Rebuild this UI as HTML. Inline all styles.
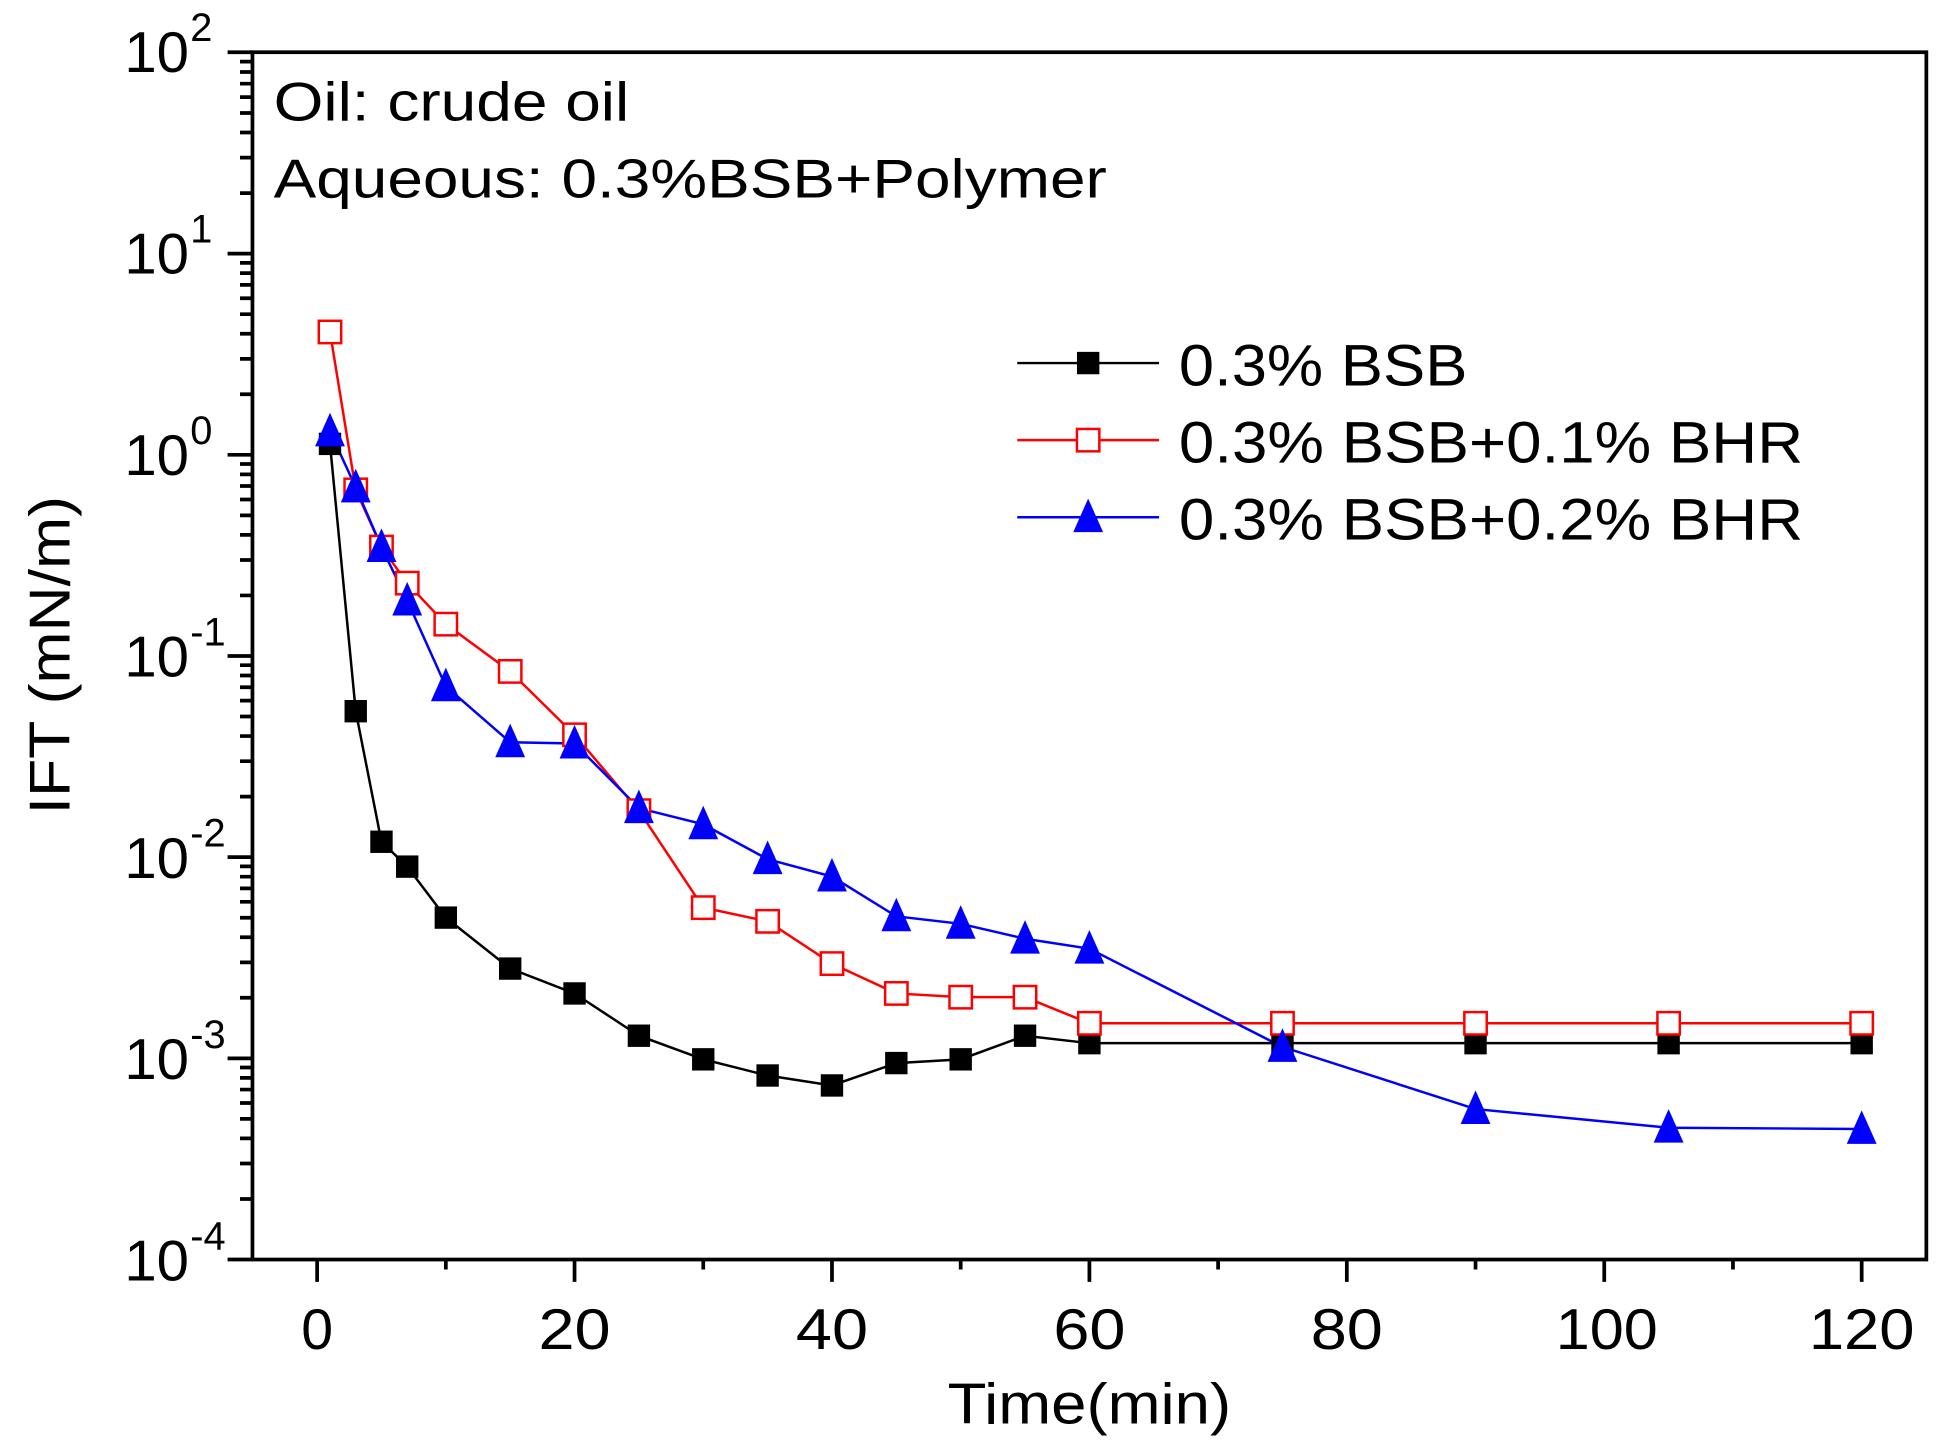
<!DOCTYPE html>
<html><head><meta charset="utf-8"><style>
html,body{margin:0;padding:0;background:#fff;}
svg{display:block;}
text{font-family:"Liberation Sans",Arial,sans-serif;fill:#000;}
</style></head><body>
<svg id="s" width="1945" height="1451" viewBox="0 0 1564 1167" preserveAspectRatio="none" xmlns="http://www.w3.org/2000/svg">
<rect x="0" y="0" width="1564" height="1167" fill="#fff"/>
<g id="ticks" stroke="#000" stroke-width="3"></g>
<g id="series"></g>
<rect x="203" y="42" width="1346" height="971" fill="none" stroke="#000" stroke-width="3"/>
<g font-size="46">
<text x="100" y="58" textLength="52" lengthAdjust="spacingAndGlyphs">10</text><text x="153" y="33" font-size="32">2</text>
<text x="100" y="220" textLength="52" lengthAdjust="spacingAndGlyphs">10</text><text x="153" y="195" font-size="32">1</text>
<text x="100" y="382" textLength="52" lengthAdjust="spacingAndGlyphs">10</text><text x="153" y="357" font-size="32">0</text>
<text x="100" y="544" textLength="52" lengthAdjust="spacingAndGlyphs">10</text><text x="153" y="519" font-size="32">-1</text>
<text x="100" y="706" textLength="52" lengthAdjust="spacingAndGlyphs">10</text><text x="153" y="681" font-size="32">-2</text>
<text x="100" y="868" textLength="52" lengthAdjust="spacingAndGlyphs">10</text><text x="153" y="843" font-size="32">-3</text>
<text x="100" y="1030" textLength="52" lengthAdjust="spacingAndGlyphs">10</text><text x="153" y="1005" font-size="32">-4</text>
</g>
<g font-size="46" text-anchor="middle">
<text x="255" y="1085">0</text>
<text x="462" y="1085" textLength="58" lengthAdjust="spacingAndGlyphs">20</text>
<text x="669" y="1085" textLength="58" lengthAdjust="spacingAndGlyphs">40</text>
<text x="876" y="1085" textLength="58" lengthAdjust="spacingAndGlyphs">60</text>
<text x="1083" y="1085" textLength="58" lengthAdjust="spacingAndGlyphs">80</text>
<text x="1292" y="1085" textLength="82" lengthAdjust="spacingAndGlyphs">100</text>
<text x="1497" y="1085" textLength="85" lengthAdjust="spacingAndGlyphs">120</text>
<text x="876" y="1145" textLength="228" lengthAdjust="spacingAndGlyphs">Time(min)</text>
<text transform="translate(56,527) rotate(-90)" textLength="256" lengthAdjust="spacingAndGlyphs">IFT (mN/m)</text>
</g>
<text x="220" y="97" font-size="44" textLength="286" lengthAdjust="spacingAndGlyphs">Oil: crude oil</text>
<text x="220" y="159" font-size="44" textLength="670" lengthAdjust="spacingAndGlyphs">Aqueous: 0.3%BSB+Polymer</text>
<line x1="818" y1="292" x2="932" y2="292" stroke="#000" stroke-width="2"/>
<rect x="866" y="283" width="18" height="18" fill="#000"/>
<line x1="818" y1="354" x2="932" y2="354" stroke="#f00" stroke-width="2"/>
<rect x="866" y="345" width="18" height="18" fill="#fff" stroke="#f00" stroke-width="2"/>
<line x1="818" y1="416" x2="932" y2="416" stroke="#00f" stroke-width="2"/>
<polygon points="875,401 863,428 887,428" fill="#00f"/>
<g font-size="47">
<text x="948" y="310" textLength="232" lengthAdjust="spacingAndGlyphs">0.3% BSB</text>
<text x="948" y="372" textLength="502" lengthAdjust="spacingAndGlyphs">0.3% BSB+0.1% BHR</text>
<text x="948" y="434" textLength="502" lengthAdjust="spacingAndGlyphs">0.3% BSB+0.2% BHR</text>
</g>
</svg>
<script>
var NS="http://www.w3.org/2000/svg",s=document.getElementById('s');
function X(t){return 255+t*10.35;}
var d="";
for(var dec=0;dec<6;dec++){var b=1013-dec*161.8;d+="M183,"+b+"H203";
 for(var k=2;k<10;k++){var y=b-Math.log10(k)*161.8;d+="M193,"+y.toFixed(1)+"H203";}}
d+="M183,42H203";
for(var t=0;t<=120;t+=10){d+="M"+X(t)+",1013V"+(t%20==0?1031:1021);}
var p=document.createElementNS(NS,'path');p.setAttribute('d',d);p.setAttribute('fill','none');p.setAttribute('stroke','#000');p.setAttribute('stroke-width','3');
document.getElementById('ticks').appendChild(p);
var T=[1,3,5,7,10,15,20,25,30,35,40,45,50,55,60,75,90,105,120];
var K=[357,572,677,697,738,779,799,833,852,865,873,855,852,833,839,839,839,839,839];
var R=[267,394,440,469,502,540,591,652,730,741,775,799,802,802,823,823,823,823,823];
var B=[347,392,440,483,552,597,598,650,663,691,705,737,743,755,763,842,892,907,908];
var g=document.getElementById('series');
function line(arr,c){var pl=document.createElementNS(NS,'polyline');pl.setAttribute('points',T.map(function(t,i){return X(t)+","+arr[i];}).join(" "));pl.setAttribute('fill','none');pl.setAttribute('stroke',c);pl.setAttribute('stroke-width','2');g.appendChild(pl);}
line(K,'#000');line(R,'#f00');line(B,'#00f');
T.forEach(function(t,i){var r=document.createElementNS(NS,'rect');r.setAttribute('x',X(t)-9);r.setAttribute('y',K[i]-9);r.setAttribute('width',18);r.setAttribute('height',18);r.setAttribute('fill','#000');g.appendChild(r);});
T.forEach(function(t,i){var r=document.createElementNS(NS,'rect');r.setAttribute('x',X(t)-9);r.setAttribute('y',R[i]-9);r.setAttribute('width',18);r.setAttribute('height',18);r.setAttribute('fill','#fff');r.setAttribute('stroke','#f00');r.setAttribute('stroke-width','2');g.appendChild(r);});
T.forEach(function(t,i){var q=document.createElementNS(NS,'polygon');var x=X(t),y=B[i];q.setAttribute('points',x+","+(y-15)+" "+(x-12)+","+(y+12)+" "+(x+12)+","+(y+12));q.setAttribute('fill','#00f');g.appendChild(q);});
</script>
</body></html>
